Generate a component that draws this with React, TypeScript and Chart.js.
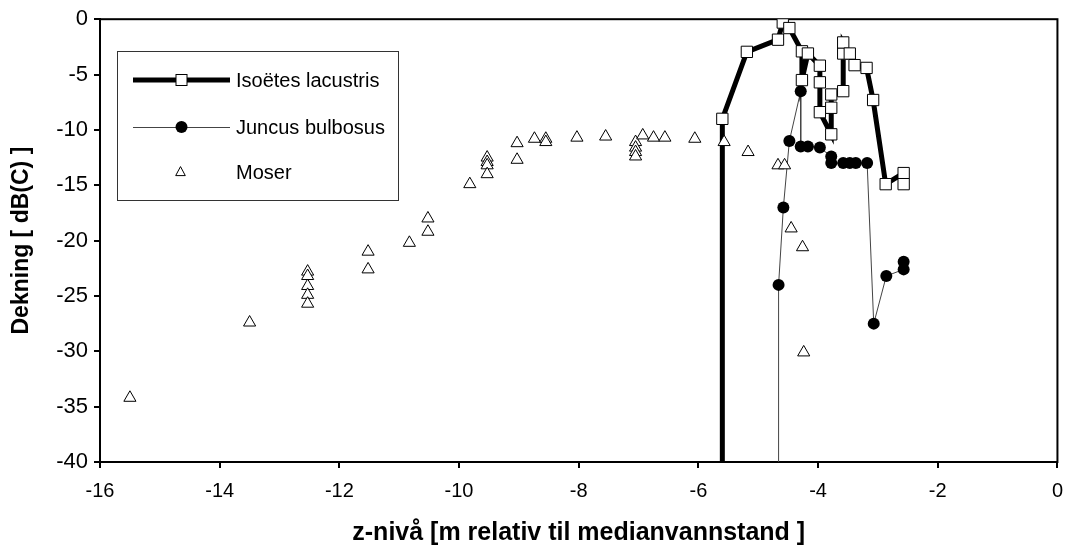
import React, { useEffect, useRef } from "react";
import { Chart, registerables } from "chart.js";

Chart.register(...registerables);

// ---- Data ----
const isoetesX = [-5.6, -5.6, -5.19, -4.67, -4.59, -4.48, -4.27, -4.27, -4.17, -3.97, -3.97, -3.97, -3.78, -3.78, -3.78, -3.58, -3.58, -3.58, -3.47, -3.39, -3.19, -3.08, -2.87, -2.57, -2.57];
const isoetesY = [-40, -9.0, -2.95, -1.85, -0.3, -0.8, -2.9, -5.5, -3.1, -4.2, -5.7, -8.4, -10.4, -8.0, -6.8, -6.5, -3.1, -2.1, -3.1, -4.15, -4.4, -7.3, -14.9, -13.9, -14.9];

const juncusX = [-4.66, -4.66, -4.58, -4.48, -4.29, -4.29, -4.17, -3.97, -3.78, -3.78, -3.58, -3.47, -3.37, -3.18, -3.07, -2.86, -2.57, -2.57];
const juncusY = [-40, -24.0, -17.0, -11.0, -6.5, -11.5, -11.5, -11.6, -12.4, -13.0, -13.0, -13.0, -13.0, -13.0, -27.5, -23.2, -22.6, -21.9];

const moserX = [-15.5, -13.5, -12.53, -12.53, -12.53, -12.53, -12.53, -11.52, -11.52, -10.83, -10.52, -10.52, -9.82, -9.53, -9.53, -9.53, -9.53, -9.03, -9.03, -8.74, -8.55, -8.55, -8.03, -7.55, -7.05, -7.05, -7.05, -7.05, -6.93, -6.75, -6.56, -6.06, -5.57, -5.17, -4.67, -4.56, -4.45, -4.26, -4.24];
const moserY = [-34.2, -27.4, -22.8, -23.2, -24.1, -24.9, -25.7, -21.0, -22.6, -20.2, -18.0, -19.2, -14.9, -12.5, -12.9, -13.2, -14.0, -11.2, -12.7, -10.8, -10.8, -11.1, -10.7, -10.6, -11.1, -11.6, -12.0, -12.4, -10.5, -10.7, -10.7, -10.8, -11.1, -12.0, -13.2, -13.2, -18.9, -20.6, -30.1];

const seriesNames = ["Isoëtes lacustris", "Juncus bulbosus", "Moser"];
const xTitle = "z-nivå [m relativ til medianvannstand ]";
const yTitle = "Dekning [ dB(C) ]";

const FONT = "'Liberation Sans', Arial, sans-serif";

const toPoints = (xs: number[], ys: number[]) => xs.map((x, i) => ({ x, y: ys[i] }));

const framePlugin = {
  id: "frame",
  beforeDatasetsDraw(chart: any) {
    const { ctx, chartArea: a } = chart;
    ctx.save();
    ctx.strokeStyle = "#000";
    ctx.lineWidth = 2;
    ctx.strokeRect(a.left, a.top, a.right - a.left, a.bottom - a.top);
    ctx.restore();
  },
  afterDraw(chart: any) {
    const { ctx } = chart;
    ctx.save();
    // legend box
    const bx = 117, by = 51, bw = 281, bh = 149;
    ctx.fillStyle = "#fff";
    ctx.fillRect(bx, by, bw, bh);
    ctx.strokeStyle = "#333";
    ctx.lineWidth = 1;
    ctx.strokeRect(bx + 0.5, by + 0.5, bw, bh);

    const lx0 = 133, lx1 = 230, mx = 181.5, tx = 236;
    const rows = [80, 127, 172];
    // Isoetes
    ctx.strokeStyle = "#000";
    ctx.lineWidth = 5;
    ctx.beginPath();
    ctx.moveTo(lx0, rows[0]);
    ctx.lineTo(lx1, rows[0]);
    ctx.stroke();
    ctx.fillStyle = "#fff";
    ctx.lineWidth = 1;
    ctx.fillRect(mx - 5.5, rows[0] - 5.5, 11, 11);
    ctx.strokeRect(mx - 5.5, rows[0] - 5.5, 11, 11);
    // Juncus
    ctx.lineWidth = 1;
    ctx.strokeStyle = "#444";
    ctx.beginPath();
    ctx.moveTo(lx0, rows[1] + 0.5);
    ctx.lineTo(lx1, rows[1] + 0.5);
    ctx.stroke();
    ctx.fillStyle = "#000";
    ctx.beginPath();
    ctx.arc(mx, rows[1], 6, 0, Math.PI * 2);
    ctx.fill();
    // Moser
    ctx.strokeStyle = "#000";
    ctx.fillStyle = "#fff";
    ctx.lineWidth = 1;
    const r = 6;
    ctx.beginPath();
    ctx.moveTo(mx - 1, rows[2] - r * 0.9);
    ctx.lineTo(mx - 1 + r * 0.8, rows[2] + r * 0.6);
    ctx.lineTo(mx - 1 - r * 0.8, rows[2] + r * 0.6);
    ctx.closePath();
    ctx.fill();
    ctx.stroke();

    ctx.fillStyle = "#000";
    ctx.font = `20px ${FONT}`;
    ctx.textBaseline = "middle";
    ctx.textAlign = "left";
    seriesNames.forEach((n, i) => ctx.fillText(n, tx, rows[i] + 1));
    ctx.restore();
  },
};

export default function App() {
  const ref = useRef<HTMLCanvasElement | null>(null);

  useEffect(() => {
    if (!ref.current) return;
    const chart = new Chart(ref.current, {
      type: "scatter",
      data: {
        datasets: [
          {
            label: seriesNames[2],
            data: toPoints(moserX, moserY),
            showLine: false,
            pointStyle: "triangle",
            pointRadius: 7,
            pointBackgroundColor: "#fff",
            pointBorderColor: "#000",
            pointBorderWidth: 1,
            order: 0,
          },
          {
            label: seriesNames[0],
            data: toPoints(isoetesX, isoetesY),
            showLine: true,
            borderColor: "#000",
            borderWidth: 5,
            pointStyle: "rect",
            pointRadius: (c: any) => (c.dataIndex === 0 ? 0 : 8),
            pointBackgroundColor: "#fff",
            pointBorderColor: "#000",
            pointBorderWidth: 1,
            order: 1,
          },
          {
            label: seriesNames[1],
            data: toPoints(juncusX, juncusY),
            showLine: true,
            borderColor: "#444",
            borderWidth: 1,
            pointStyle: "circle",
            pointRadius: (c: any) => (c.dataIndex === 0 ? 0 : 6),
            pointBackgroundColor: "#000",
            pointBorderColor: "#000",
            pointBorderWidth: 0,
            order: 2,
          },
        ],
      },
      options: {
        animation: false,
        responsive: false,
        layout: { padding: { left: 0, top: 16, right: 11, bottom: 0 } },
        plugins: { legend: { display: false }, tooltip: { enabled: false } },
        scales: {
          x: {
            type: "linear",
            min: -16,
            max: 0,
            afterFit: (s: any) => {
              s.height = 90;
            },
            ticks: {
              stepSize: 2,
              color: "#000",
              font: { family: FONT, size: 20 },
              padding: 11,
              maxRotation: 0,
            },
            grid: { drawOnChartArea: false, drawTicks: true, tickLength: 6, color: "#000", lineWidth: 2 },
            border: { display: true, color: "#000", width: 2 },
            title: {
              display: true,
              text: xTitle,
              color: "#000",
              font: { family: FONT, size: 25, weight: "bold" },
              padding: { top: 0, bottom: 4 },
            },
          },
          y: {
            type: "linear",
            min: -40,
            max: 0,
            afterFit: (s: any) => {
              s.width = 100;
            },
            ticks: {
              stepSize: 5,
              color: "#000",
              font: { family: FONT, size: 22 },
              padding: 6,
            },
            grid: { drawOnChartArea: false, drawTicks: true, tickLength: 6, color: "#000", lineWidth: 2 },
            border: { display: true, color: "#000", width: 2 },
            title: {
              display: true,
              text: yTitle,
              color: "#000",
              font: { family: FONT, size: 23, weight: "bold" },
              padding: { top: 8, bottom: 0 },
            },
          },
        },
      },
      plugins: [framePlugin],
    });
    return () => chart.destroy();
  }, []);

  return (
    <div style={{ position: "absolute", left: 0, top: 0, width: 1074, height: 552, background: "#fff" }}>
      <canvas ref={ref} width={1074} height={552} style={{ display: "block" }} />
    </div>
  );
}
